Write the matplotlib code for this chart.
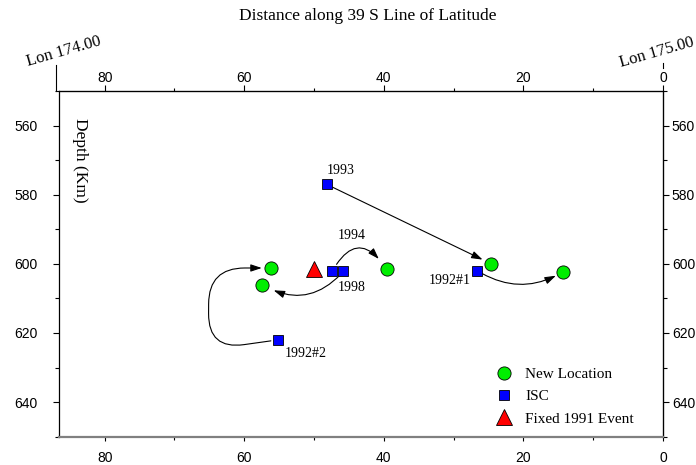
import matplotlib
matplotlib.use("Agg")
import matplotlib.pyplot as plt
from matplotlib.ticker import MultipleLocator

# ISC catalogue locations (distance km, depth km) and their labels
isc_dist = [48.2, 26.6, 47.4, 45.8, 55.2]
isc_depth = [577.0, 602.0, 602.2, 602.2, 622.0]
isc_labels = ["1993", "1992#1", "1994", "1998", "1992#2"]

# relocated events, same order as ISC list
new_dist = [24.6, 14.3, 39.6, 57.4, 56.2]
new_depth = [600.0, 602.3, 601.4, 606.1, 601.2]

fixed_dist = [50.0]
fixed_depth = [601.6]

x_ticks = [80, 60, 40, 20, 0]
y_ticks = [560, 580, 600, 620, 640]

# label placement (offset points, alignment) and arrow shape per event
label_offsets = [(0, 5), (-5, -7), (14, 21), (-4, -7), (5, -5)]
label_align = [("left", "bottom"), ("right", "center"), ("center", "bottom"),
               ("left", "top"), ("left", "top")]
arrow_conn = ["arc3,rad=0.0", "arc3,rad=0.3", "arc3,rad=-0.8", "arc3,rad=-0.4",
              "arc,angleA=188,angleB=180,armA=70,armB=62,rad=36"]
arrow_shrink = [(5, 7), (4, 6), (6, 9), (3, 9), (5, 6.5)]

serif = "Liberation Serif"
sans = "Liberation Sans"

fig = plt.figure(figsize=(6.96, 4.65), dpi=100)
ax = fig.add_axes([0.0852, 0.0609, 0.8674, 0.7434])

ax.set_xlim(86.5, 0)
ax.set_ylim(650, 550)

for i in range(len(isc_dist)):
    ax.annotate("", xy=(new_dist[i], new_depth[i]), xytext=(isc_dist[i], isc_depth[i]),
                arrowprops=dict(arrowstyle="-|>,head_length=0.6,head_width=0.2",
                                mutation_scale=11, lw=0.8, color="black",
                                connectionstyle=arrow_conn[i],
                                shrinkA=arrow_shrink[i][0], shrinkB=arrow_shrink[i][1]),
                zorder=2)

ax.plot(new_dist, new_depth, linestyle="none", marker="o", markersize=9.5,
        markerfacecolor="#00ee00", markeredgecolor="black", markeredgewidth=0.6,
        label="New Location", zorder=3)
ax.plot(isc_dist, isc_depth, linestyle="none", marker="s", markersize=7.5,
        markerfacecolor="#0000ff", markeredgecolor="black", markeredgewidth=0.6,
        label="ISC", zorder=3)
ax.plot(fixed_dist, fixed_depth, linestyle="none", marker="^", markersize=11,
        markerfacecolor="#ff0000", markeredgecolor="black", markeredgewidth=0.6,
        label="Fixed 1991 Event", zorder=3)

for i, lab in enumerate(isc_labels):
    ax.annotate(lab, xy=(isc_dist[i], isc_depth[i]), xytext=label_offsets[i],
                textcoords="offset points", ha=label_align[i][0], va=label_align[i][1],
                fontsize=10, family=serif)

ax.set_xticks(x_ticks)
ax.set_yticks(y_ticks)
ax.xaxis.set_minor_locator(MultipleLocator(10))
ax.yaxis.set_minor_locator(MultipleLocator(10))
ax.tick_params(axis="x", which="major", direction="out", length=3, width=0.8, pad=7, labelsize=10)
ax.tick_params(axis="x", which="minor", direction="out", length=2, width=0.8)
ax.tick_params(axis="y", which="major", direction="out", length=4.3, width=0.8, pad=11.5, labelsize=10)
ax.tick_params(axis="y", which="minor", direction="out", length=3, width=0.8)
for t in ax.get_xticklabels() + ax.get_yticklabels():
    t.set_family(sans)

ax.spines["bottom"].set_color("#808080")
ax.spines["bottom"].set_linewidth(1.6)
for s in ["top", "left", "right"]:
    ax.spines[s].set_linewidth(0.9)

top = ax.secondary_xaxis("top")
top.set_xticks(x_ticks)
top.xaxis.set_minor_locator(MultipleLocator(10))
top.tick_params(which="major", direction="out", length=4, width=0.8, pad=0, labelsize=10)
top.tick_params(which="minor", direction="out", length=2, width=0.8)
for t in top.get_xticklabels():
    t.set_family(sans)

right = ax.secondary_yaxis("right")
right.set_yticks(y_ticks)
right.yaxis.set_minor_locator(MultipleLocator(10))
right.tick_params(which="major", direction="out", length=4.3, width=0.8, pad=2, labelsize=10)
right.tick_params(which="minor", direction="out", length=3, width=0.8)
for t in right.get_yticklabels():
    t.set_family(sans)

# longitude markers at the ends of the profile
ax.plot([-0.005, -0.005], [1.0, 1.075], transform=ax.transAxes, color="black", lw=0.8, clip_on=False)
ax.plot([1.0, 1.0], [1.066, 1.081], transform=ax.transAxes, color="black", lw=0.8, clip_on=False)
ax.text(0.008, 1.115, "Lon 174.00", transform=ax.transAxes, rotation=16,
        ha="center", va="center", fontsize=12, family=serif)
ax.text(0.99, 1.112, "Lon 175.00", transform=ax.transAxes, rotation=16,
        ha="center", va="center", fontsize=12, family=serif)

fig.text(0.528, 0.965, "Distance along 39 S Line of Latitude", ha="center", va="center",
         fontsize=12.5, family=serif)

ax.text(0.034, 0.799, "Depth (Km)", transform=ax.transAxes, rotation=270,
        ha="center", va="center", fontsize=12.5, family=serif)

ax.legend(loc="upper left", bbox_to_anchor=(0.724, 0.20), frameon=False,
          prop={"family": serif, "size": 11}, handlelength=0.95, handletextpad=0.95,
          borderpad=0, borderaxespad=0, labelspacing=0.56, numpoints=1)

fig.savefig("out.png", dpi=100)
